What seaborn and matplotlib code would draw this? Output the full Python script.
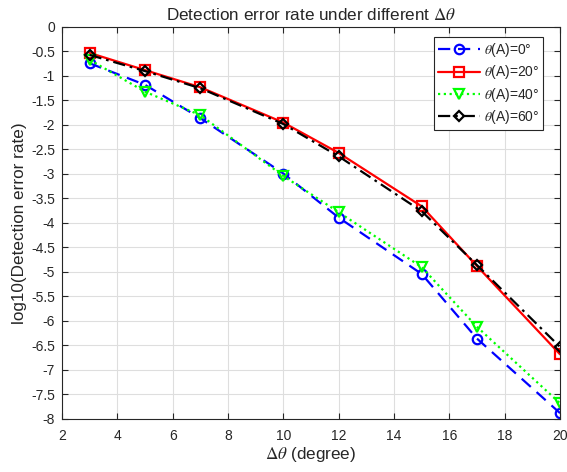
import numpy as np
import pandas as pd
import seaborn as sns
import matplotlib
matplotlib.use("Agg")
import matplotlib.pyplot as plt

# Angular separation (degrees)
delta_theta = [3, 5, 7, 10, 12, 15, 17, 20]

# log10 of the detection error rate for each reference angle theta(A)
err_theta0 = [-0.74, -1.18, -1.86, -2.99, -3.89, -5.04, -6.36, -7.88]
err_theta20 = [-0.53, -0.88, -1.23, -1.95, -2.57, -3.66, -4.88, -6.68]
err_theta40 = [-0.67, -1.32, -1.80, -3.04, -3.78, -4.90, -6.12, -7.68]
err_theta60 = [-0.57, -0.90, -1.25, -1.98, -2.64, -3.76, -4.86, -6.53]

series_labels = [r"$\theta$(A)=0°", r"$\theta$(A)=20°",
                 r"$\theta$(A)=40°", r"$\theta$(A)=60°"]

x_ticks = [2, 4, 6, 8, 10, 12, 14, 16, 18, 20]
y_ticks = [0, -0.5, -1, -1.5, -2, -2.5, -3, -3.5, -4, -4.5, -5, -5.5,
           -6, -6.5, -7, -7.5, -8]

sns.set_theme(style="whitegrid")
plt.rcParams["font.family"] = ["Liberation Sans", "DejaVu Sans"]
plt.rcParams["mathtext.fontset"] = "stix"

fig = plt.figure(figsize=(5.67, 4.72), dpi=100)
ax = fig.add_axes([0.1093, 0.1123, 0.8784, 0.8305])

styles = [
    dict(color="#0000ff", linestyle=(0, (5.5, 3.5)), marker="o"),
    dict(color="#ff0000", linestyle="-", marker="s"),
    dict(color="#00ff00", linestyle=(0, (1, 1.6)), marker="v"),
    dict(color="#000000", linestyle=(0, (5.5, 2.2, 1.2, 2.2)), marker="D"),
]
all_series = [err_theta0, err_theta20, err_theta40, err_theta60]

for values, label, st in zip(all_series, series_labels, styles):
    df = pd.DataFrame({"delta": delta_theta, "err": values})
    msize = 5.5 if st["marker"] == "D" else 6.8
    sns.lineplot(data=df, x="delta", y="err", ax=ax, label=label,
                 color=st["color"], linestyle=st["linestyle"],
                 marker=st["marker"], markersize=msize,
                 markerfacecolor="none", markeredgecolor=st["color"],
                 markeredgewidth=1.6, linewidth=1.6)

ax.set_xlim(2, 20)
ax.set_ylim(-8, 0)
ax.set_xticks(x_ticks)
ax.set_yticks(y_ticks)
ax.set_xticklabels([str(t) for t in x_ticks])
ax.set_yticklabels([("%g" % t) for t in y_ticks])

ax.grid(True, color="#dedede", linewidth=0.8)
ax.set_facecolor("white")
for sp in ax.spines.values():
    sp.set_color("#262626")
    sp.set_linewidth(0.8)
    sp.set_visible(True)

ax.tick_params(axis="both", which="both", direction="in", length=4,
               width=0.8, color="#262626", labelsize=10, labelcolor="#262626",
               top=True, right=True, bottom=True, left=True)
ax.tick_params(axis="x", pad=7)
ax.tick_params(axis="y", pad=5)

ax.set_xlabel(r"$\Delta\theta$ (degree)", fontsize=12.3, color="#262626",
              labelpad=2)
ax.set_ylabel("log10(Detection error rate)", fontsize=12.3, color="#262626",
              labelpad=3)
ax.set_title(r"Detection error rate under different $\Delta\theta$",
             fontsize=12.3, color="#262626", pad=5)

leg = ax.legend(loc="upper right", bbox_to_anchor=(0.975, 0.985),
                fontsize=10, frameon=True, fancybox=False,
                edgecolor="#262626", framealpha=1, handlelength=3.0,
                borderpad=0.3, labelspacing=0.3, handletextpad=0.3,
                borderaxespad=0.3)
leg.get_frame().set_linewidth(0.8)

fig.savefig("out.png", dpi=100)
